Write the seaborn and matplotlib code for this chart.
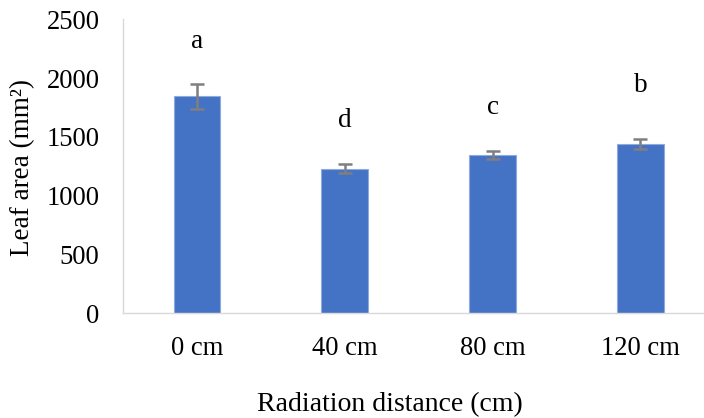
import matplotlib
matplotlib.use("Agg")
import matplotlib.pyplot as plt
import seaborn as sns
import pandas as pd

categories = ["0 cm", "40 cm", "80 cm", "120 cm"]
leaf_area = [1845, 1230, 1348, 1438]
errors = [105, 37, 34, 41]
letters = ["a", "d", "c", "b"]
letter_heights = [2258, 1587, 1692, 1884]

sns.set_theme(style="white")
plt.rcParams["font.family"] = ["Liberation Serif", "DejaVu Serif"]

df = pd.DataFrame({"distance": categories, "area": leaf_area})

fig = plt.figure(figsize=(7.04, 4.18), dpi=100)
ax = fig.add_axes([123 / 704, (418 - 313.3) / 418, (704 - 123) / 704, (313.3 - 19.3) / 418])

sns.barplot(data=df, x="distance", y="area", color="#4472C4", saturation=1,
            width=0.316, edgecolor="#8FAADC", linewidth=0.8, ax=ax)
ax.errorbar(range(len(categories)), leaf_area, yerr=errors, fmt="none",
            ecolor="#7F7F7F", elinewidth=1.8, capsize=5, capthick=1.8, zorder=5)

for i, (lab, h) in enumerate(zip(letters, letter_heights)):
    ax.text(i, h, lab, ha="center", va="baseline", fontsize=19.5, color="black")

ax.set_xlim(-0.5, 3.43)
ax.set_ylim(0, 2500)
ax.set_yticks([0, 500, 1000, 1500, 2000, 2500])
ax.tick_params(axis="both", length=0, labelsize=19.2, colors="black")
ax.tick_params(axis="y", pad=17)
ax.tick_params(axis="x", pad=16)

for s in ["top", "right"]:
    ax.spines[s].set_visible(False)
for s in ["left", "bottom"]:
    ax.spines[s].set_color("#D9D9D9")
    ax.spines[s].set_linewidth(1.0)

ax.set_xlabel("")
ax.set_ylabel("")
fig.text(23 / 704, 1 - 167 / 418, "Leaf area (mm²)", rotation=90, ha="center", va="center",
         fontsize=19.5, color="black")
fig.text(390 / 704, 1 - 405 / 418, "Radiation distance (cm)", ha="center", va="center",
         fontsize=20, color="black")

fig.savefig("out.png", dpi=100)
